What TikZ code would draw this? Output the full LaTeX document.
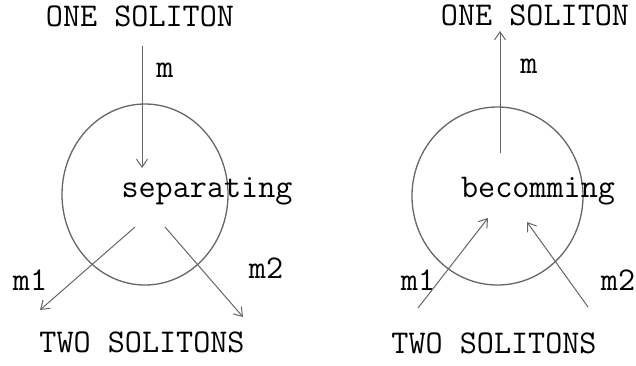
\documentclass[tikz,border=0pt]{standalone}
\usetikzlibrary{arrows.meta}

\begin{document}
\begin{tikzpicture}[x=0.5pt,y=-0.5pt,
  lbl/.style={font=\ttfamily\fontsize{16.6}{19}\selectfont,inner sep=0pt,anchor=base},
  flow/.style={draw=black!60,line width=0.5pt,-{Straight Barb[length=4pt,width=5.5pt]}},
  ring/.style={draw=black!60,line width=0.65pt}]
\useasboundingbox (0,0) rectangle (636,365);
% left: one soliton separating
\node[lbl] (lone) at (140,26) {ONE SOLITON};
\draw[ring] (145,194.5) ellipse [x radius=83,y radius=90.5];
\node[lbl] (lsep) at (207,197) {separating};
\node[lbl] (lm) at (165,77) {m};
\node[lbl] (lm1) at (30,290) {m1};
\node[lbl] (lm2) at (266,278) {m2};
\node[lbl] (ltwo) at (142,352) {TWO SOLITONS};
\coordinate (lin) at (142,46);
\coordinate (lmid) at (142,168);
\coordinate (lout1) at (135,227);
\coordinate (lend1) at (40,310);
\coordinate (lout2) at (165,227);
\coordinate (lend2) at (243,317);
\draw[flow] (lin) -- (lmid);
\draw[flow] (lout1) -- (lend1);
\draw[flow] (lout2) -- (lend2);
% right: two solitons becoming one
\node[lbl] (rone) at (535,25) {ONE SOLITON};
\draw[ring] (497.5,196) ellipse [x radius=85.5,y radius=89];
\node[lbl] (rbec) at (538,197) {becomming};
\node[lbl] (rm) at (529,73) {m};
\node[lbl] (rm1) at (418,290) {m1};
\node[lbl] (rm2) at (618,290) {m2};
\node[lbl] (rtwo) at (494,353) {TWO SOLITONS};
\coordinate (rmid) at (500,153);
\coordinate (rout) at (500,31);
\coordinate (rbeg1) at (418,308);
\coordinate (rin1) at (488,218);
\coordinate (rbeg2) at (588,307);
\coordinate (rin2) at (527,222);
\draw[flow] (rmid) -- (rout);
\draw[flow] (rbeg1) -- (rin1);
\draw[flow] (rbeg2) -- (rin2);
\end{tikzpicture}
\end{document}
